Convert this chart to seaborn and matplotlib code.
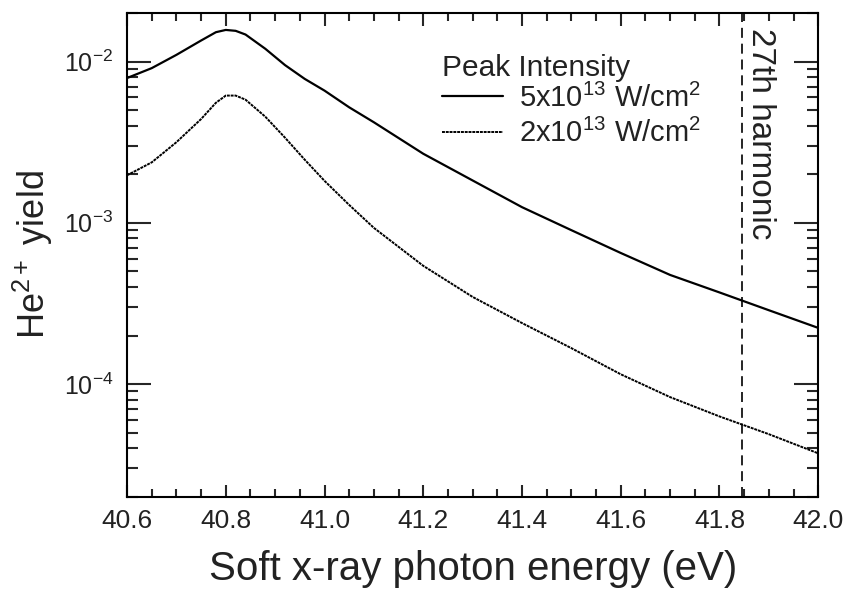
import numpy as np
import pandas as pd
import matplotlib
matplotlib.use("Agg")
import matplotlib.pyplot as plt
import matplotlib.ticker as mticker
import matplotlib.transforms as mtransforms
import seaborn as sns

# ---------------- data ----------------
energy = [40.60, 40.65, 40.70, 40.75, 40.78, 40.80, 40.82, 40.84, 40.88, 40.92,
          40.96, 41.00, 41.05, 41.10, 41.20, 41.30, 41.40, 41.50, 41.60, 41.70,
          41.80, 41.90, 42.00]
yield_5e13 = [7.9e-3, 9.1e-3, 1.10e-2, 1.35e-2, 1.52e-2, 1.57e-2, 1.55e-2, 1.47e-2,
              1.20e-2, 9.5e-3, 7.8e-3, 6.6e-3, 5.2e-3, 4.2e-3, 2.68e-3, 1.83e-3,
              1.25e-3, 9.0e-4, 6.5e-4, 4.75e-4, 3.7e-4, 2.87e-4, 2.23e-4]
yield_2e13 = [1.97e-3, 2.37e-3, 3.16e-3, 4.4e-3, 5.55e-3, 6.15e-3, 6.15e-3, 5.8e-3,
              4.55e-3, 3.37e-3, 2.46e-3, 1.82e-3, 1.29e-3, 9.3e-4, 5.41e-4, 3.47e-4,
              2.39e-4, 1.67e-4, 1.15e-4, 8.3e-5, 6.3e-5, 4.89e-5, 3.72e-5]
series_labels = [r"5x10$^{13}$ W/cm$^2$", r"2x10$^{13}$ W/cm$^2$"]
legend_title = "Peak Intensity"
harmonic_energy = 41.845
harmonic_label = "27th harmonic"
x_ticks = [40.6, 40.8, 41.0, 41.2, 41.4, 41.6, 41.8, 42.0]
y_ticks = [1e-4, 1e-3, 1e-2]
x_label = "Soft x-ray photon energy (eV)"
y_label = r"He$^{2+}$ yield"

# ---------------- style ----------------
sns.set_theme(style="ticks")
plt.rcParams["font.family"] = ["Liberation Sans", "DejaVu Sans"]
plt.rcParams["mathtext.fontset"] = "custom"
plt.rcParams["mathtext.rm"] = "Liberation Sans"
plt.rcParams["mathtext.it"] = "Liberation Sans"
plt.rcParams["mathtext.default"] = "regular"

text_col = "#222222"

df = pd.DataFrame({"energy": energy, "y5": yield_5e13, "y2": yield_2e13})

fig = plt.figure(figsize=(8.47, 5.90), dpi=100)
ax = fig.add_axes([0.150, 0.158, 0.816, 0.820])

sns.lineplot(data=df, x="energy", y="y5", ax=ax, color="black", linewidth=1.6,
             label=series_labels[0])
sns.lineplot(data=df, x="energy", y="y2", ax=ax, color="black", linewidth=1.4,
             linestyle=(0, (1.5, 0.45)), label=series_labels[1])

ax.axvline(harmonic_energy, color="black", linewidth=1.2, dashes=(6, 3.5))

ax.set_yscale("log")
ax.set_xlim(40.6, 42.0)
ax.set_ylim(2e-5, 2e-2)

ax.set_xticks(x_ticks)
ax.set_xticklabels([f"{t:.1f}" for t in x_ticks])
ax.xaxis.set_minor_locator(mticker.MultipleLocator(0.05))
ax.set_yticks(y_ticks)
ax.yaxis.set_major_formatter(mticker.FuncFormatter(
    lambda v, p: r"$10^{%d}$" % int(round(np.log10(v)))))
ax.yaxis.set_minor_locator(mticker.LogLocator(base=10, subs=np.arange(2, 10)))
ax.yaxis.set_minor_formatter(mticker.NullFormatter())

for s in ax.spines.values():
    s.set_visible(True)
    s.set_linewidth(1.5)
    s.set_color("black")

ax.tick_params(axis="x", which="major", direction="in", length=9, width=1.5,
               top=True, bottom=True, labelsize=19, pad=9, labelcolor=text_col)
ax.tick_params(axis="x", which="minor", direction="in", length=6, width=1.5,
               top=True, bottom=True)
ax.tick_params(axis="y", which="major", direction="in", length=17, width=1.5,
               left=True, right=True, labelsize=18, pad=10, labelcolor=text_col)
ax.tick_params(axis="y", which="minor", direction="in", length=8, width=1.5,
               left=True, right=True)

ax.set_xlabel(x_label, fontsize=29, color=text_col, labelpad=12)
ax.set_ylabel(y_label, fontsize=26, color=text_col, labelpad=6)
ax.grid(False)

trans = mtransforms.blended_transform_factory(ax.transData, ax.transAxes)
ax.text(41.884, 0.968, harmonic_label, rotation=270, ha="center", va="top",
        fontsize=24, color=text_col, transform=trans)

handles = ax.get_lines()[:2]
leg = ax.legend(handles, series_labels, title=legend_title, loc="upper left",
                bbox_to_anchor=(0.455, 0.915), frameon=False, fontsize=21,
                title_fontsize=21.5, handlelength=2.1, handletextpad=0.55,
                labelspacing=0.22, borderpad=0, borderaxespad=0)
leg._legend_box.align = "left"
leg._legend_box.sep = 1
for t in leg.get_texts():
    t.set_color(text_col)
leg.get_title().set_color(text_col)

fig.savefig("out.png", dpi=100)
